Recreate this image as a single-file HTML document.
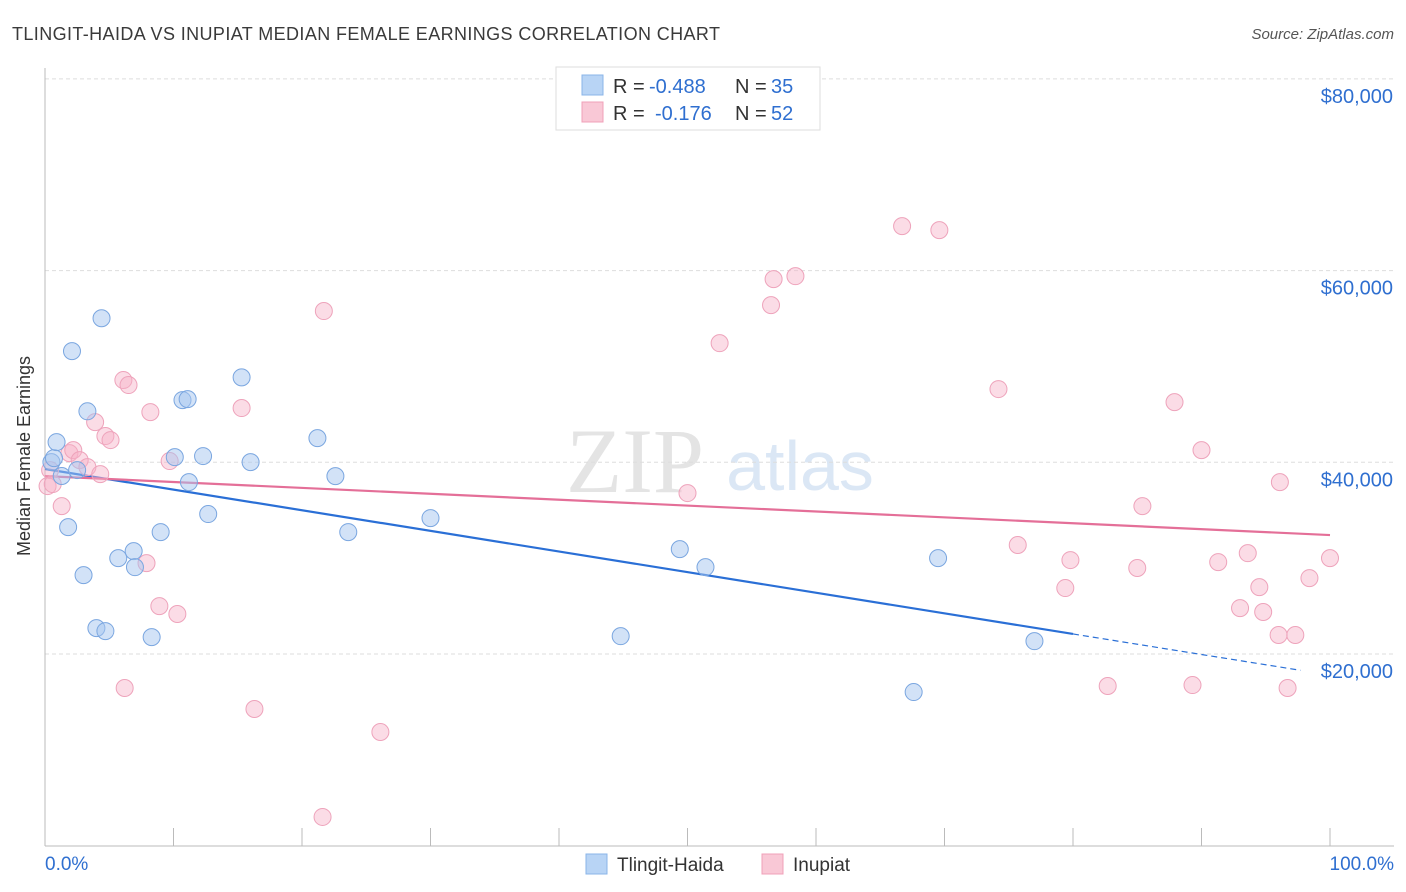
<!DOCTYPE html>
<html><head><meta charset="utf-8"><style>
body{margin:0;background:#fff;font-family:"Liberation Sans",sans-serif}
svg{display:block}
</style></head><body>
<svg id="c" width="1406" height="892" xmlns="http://www.w3.org/2000/svg">
<text x="12" y="40" font-size="18" fill="#3a3a3a" textLength="708">TLINGIT-HAIDA VS INUPIAT MEDIAN FEMALE EARNINGS CORRELATION CHART</text>
<text x="1394" y="39" font-size="15" fill="#555" font-style="italic" text-anchor="end">Source: ZipAtlas.com</text>
<g><text x="635" y="492" font-size="92" fill="#e4e4e4" font-family="Liberation Serif" text-anchor="middle">ZIP</text><text x="800" y="490" font-size="70" fill="#dbe7f5" text-anchor="middle">atlas</text></g>
<g id="grid"></g><g id="axes"></g><g id="lines"></g><g id="pts"></g>
<text x="30" y="456" font-size="18" fill="#333" text-anchor="middle" transform="rotate(-90 30 456)">Median Female Earnings</text>
<g>
<rect x="556" y="67" width="264" height="63" fill="#fff" stroke="#ddd"/>
<rect x="582" y="75" width="21" height="20" fill="#b8d4f5" stroke="#8ab4e8"/>
<rect x="582" y="102" width="21" height="20" fill="#f9c8d6" stroke="#f0a0b8"/>
<text y="93" font-size="20" fill="#333"><tspan x="613">R =</tspan><tspan x="649" fill="#2f6fd0">-0.488</tspan><tspan x="735">N =</tspan><tspan x="771" fill="#2f6fd0">35</tspan></text>
<text y="120" font-size="20" fill="#333"><tspan x="613">R =</tspan><tspan x="655" fill="#2f6fd0">-0.176</tspan><tspan x="735">N =</tspan><tspan x="771" fill="#2f6fd0">52</tspan></text>
</g>
<g>
<rect x="586" y="854" width="21" height="20" fill="#b8d4f5" stroke="#8ab4e8"/>
<text x="617" y="871" font-size="19" fill="#333">Tlingit-Haida</text>
<rect x="762" y="854" width="21" height="20" fill="#f9c8d6" stroke="#f0a0b8"/>
<text x="793" y="871" font-size="19" fill="#333">Inupiat</text>
</g>
</svg>
<script>
const yTicks=[20000,40000,60000,80000];
const yTickLabels=["$20,000","$40,000","$60,000","$80,000"];
const xTickLabels=["0.0%","100.0%"];
const blueX=[0.5,0.7,0.9,1.3,1.8,2.1,2.5,3.0,3.3,4.0,4.4,4.7,5.7,6.9,7.0,8.3,9.0,10.1,10.7,11.1,11.2,12.3,12.7,15.3,16.0,21.2,22.6,23.6,30.0,44.8,49.4,51.4,67.6,69.5,77.0];
const blueY=[40020,40440,42110,38570,33240,51600,39190,28230,45320,22700,55030,22390,30000,30730,29060,21760,32720,40540,46490,46590,37930,40650,34600,48860,40020,42520,38560,32720,34180,21860,30940,29060,16030,30000,21340];
const pinkX=[0.2,0.4,0.6,1.3,1.9,2.2,2.7,3.3,3.9,4.3,4.7,5.1,6.1,6.2,6.5,7.9,8.2,8.9,9.7,10.3,15.3,16.3,21.7,21.6,26.1,50.0,52.5,56.5,56.7,58.4,66.7,69.6,74.2,75.7,79.4,79.8,82.7,85.0,85.4,87.9,89.3,90.0,91.3,93.0,93.6,94.5,94.8,96.0,96.1,96.7,97.3,98.4,100.0];
const pinkY=[37520,39190,37730,35430,40960,41270,40230,39500,44190,38770,42740,42320,48580,16450,48060,29480,45240,25000,40130,24170,45660,14260,55780,3000,11860,36790,52430,56400,59110,59420,64640,64220,47640,31370,26880,29800,16660,28970,35430,46280,16760,41270,29590,24790,30520,26980,24380,21980,37930,16450,21980,27920,30000];
const blueTrend=[[0,39300],[80,22090],[97.7,18300]];
const pinkTrend=[[0,38560],[100,32410]];
const NS="http://www.w3.org/2000/svg";
const X=p=>45+p*12.85, Y=v=>845.7-v*0.009585;
function mk(par,tag,at){const e=document.createElementNS(NS,tag);for(const k in at)e.setAttribute(k,at[k]);document.getElementById(par).appendChild(e);return e;}
yTicks.forEach((v,i)=>{
 let l=mk('grid','line',{x1:45,x2:1394,y1:Y(v),y2:Y(v),stroke:'#ddd','stroke-dasharray':'4,3'});
 
 
 let t=mk('axes','text',{x:1393,y:Y(v)+24,'font-size':20,fill:'#2f6fd0','text-anchor':'end'});
 t.textContent=yTickLabels[i];
 
 
});
mk('axes','line',{x1:45,x2:45,y1:68,y2:846,stroke:'#bbb'});
mk('axes','line',{x1:45,x2:1394,y1:846,y2:846,stroke:'#bbb'});
for(let i=0;i<=10;i++){let l=mk('axes','line',{x1:X(i*10),x2:X(i*10),y1:828,y2:846,stroke:'#bbb'});}
[[45,'start'],[1394,'end']].forEach((a,i)=>{let t=mk('axes','text',{x:a[0],y:870,'font-size':19,fill:'#2f6fd0','text-anchor':a[1]});t.textContent=xTickLabels[i];});
let b1=mk('lines','line',{x1:X(blueTrend[0][0]),y1:Y(blueTrend[0][1]),x2:X(blueTrend[1][0]),y2:Y(blueTrend[1][1]),stroke:'#2a6fd6','stroke-width':2.2});


let b2=mk('lines','line',{x1:X(blueTrend[1][0]),y1:Y(blueTrend[1][1]),x2:X(blueTrend[2][0]),y2:Y(blueTrend[2][1]),stroke:'#2a6fd6','stroke-width':1.2,'stroke-dasharray':'6,4'});


let p1=mk('lines','line',{x1:X(pinkTrend[0][0]),y1:Y(pinkTrend[0][1]),x2:X(pinkTrend[1][0]),y2:Y(pinkTrend[1][1]),stroke:'#e46f98','stroke-width':2.2});


pinkX.forEach((x,i)=>{let c=mk('pts','circle',{cx:X(x),cy:Y(pinkY[i]),r:8.5,fill:'rgba(246,178,200,0.45)',stroke:'#eea3bb','stroke-width':1});});
blueX.forEach((x,i)=>{let c=mk('pts','circle',{cx:X(x),cy:Y(blueY[i]),r:8.5,fill:'rgba(165,198,240,0.5)',stroke:'#7aa6e0','stroke-width':1});});
</script>
</body></html>
